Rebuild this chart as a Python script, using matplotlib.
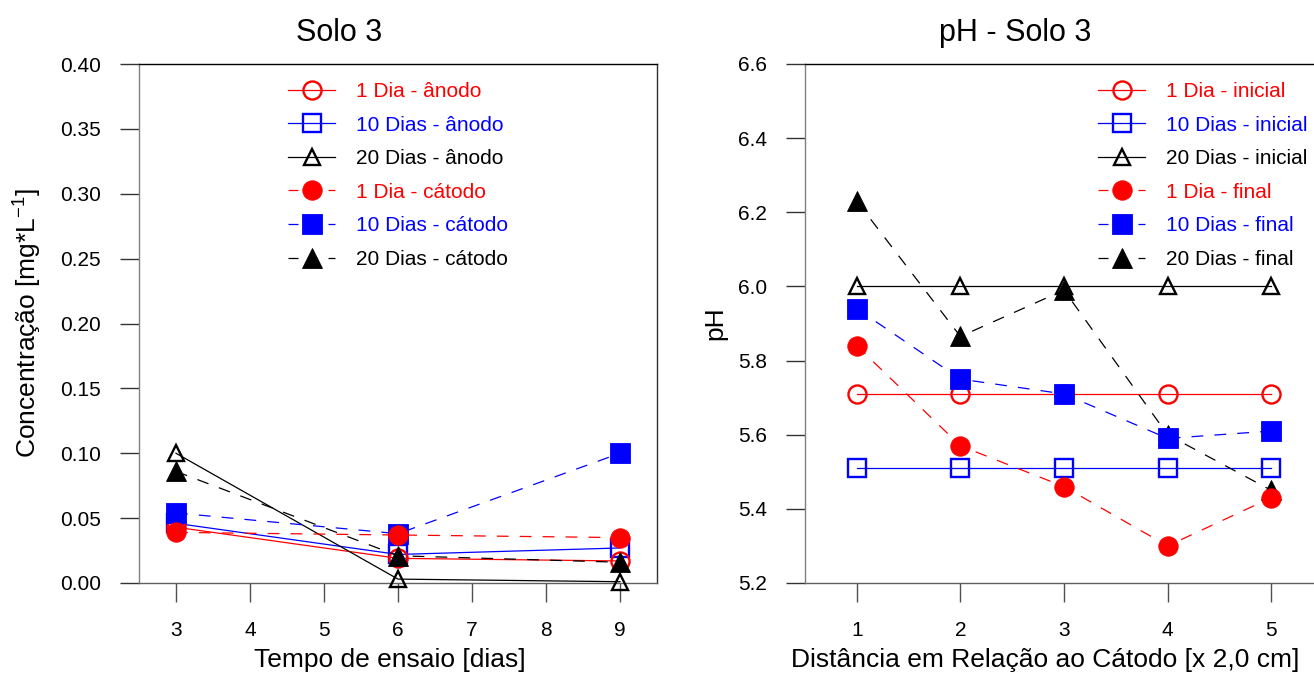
import matplotlib
matplotlib.use("Agg")
import matplotlib.pyplot as plt
from matplotlib.legend_handler import HandlerLine2D

plt.rcParams['font.family'] = ['Liberation Sans', 'DejaVu Sans']
plt.rcParams['mathtext.fontset'] = 'custom'
plt.rcParams['mathtext.rm'] = 'Liberation Sans'
plt.rcParams['mathtext.it'] = 'Liberation Sans:italic'
plt.rcParams['lines.scale_dashes'] = False

# ---- Concentração (Solo 3) ----
dias = [3, 6, 9]
conc_anodo_1d = [0.043, 0.019, 0.017]
conc_anodo_10d = [0.046, 0.022, 0.027]
conc_anodo_20d = [0.100, 0.003, 0.001]
conc_catodo_1d = [0.039, 0.037, 0.035]
conc_catodo_10d = [0.054, 0.038, 0.100]
conc_catodo_20d = [0.086, 0.021, 0.016]
conc_ticks = [0.00, 0.05, 0.10, 0.15, 0.20, 0.25, 0.30, 0.35, 0.40]
dias_ticks = [3, 4, 5, 6, 7, 8, 9]

# ---- pH (Solo 3) ----
distancia = [1, 2, 3, 4, 5]
ph_inicial_1d = [5.71, 5.71, 5.71, 5.71, 5.71]
ph_inicial_10d = [5.51, 5.51, 5.51, 5.51, 5.51]
ph_inicial_20d = [6.00, 6.00, 6.00, 6.00, 6.00]
ph_final_1d = [5.84, 5.57, 5.46, 5.30, 5.43]
ph_final_10d = [5.94, 5.75, 5.71, 5.59, 5.61]
ph_final_20d = [6.23, 5.865, 5.99, 5.60, 5.45]
ph_ticks = [5.2, 5.4, 5.6, 5.8, 6.0, 6.2, 6.4, 6.6]

RED, BLUE, BLACK = '#ff0000', '#0000ff', '#000000'
DASH = (8.5, 8.0)

fig = plt.figure(figsize=(13.14, 6.75), dpi=100)
W, H = 1314.0, 675.0


def px_axes(left, top, right, bottom):
    return fig.add_axes([left / W, 1 - bottom / H, (right - left) / W, (bottom - top) / H])


ax1 = px_axes(139, 64, 657, 583)
ax2 = px_axes(805, 64, 1323, 583)


def draw(ax, x, y, color, marker, filled, dashed, label, z):
    ms = {'o': 14, 's': 14, '^': 15}[marker] if filled else {'o': 13, 's': 13, '^': 11.5}[marker]
    kw = dict(color=color, lw=0.9, marker=marker, ms=ms, label=label,
              zorder=z, clip_on=False)
    if filled:
        kw.update(mfc=color, mec=color, mew=0.6)
    else:
        kw.update(mfc='none', mec=color, mew=1.7)
    if dashed:
        kw.update(ls=(0, DASH))
    return ax.plot(x, y, **kw)[0]


def legend_dashes(leg_line, orig):
    leg_line.update_from(orig)
    if orig.get_linestyle() not in ('-', 'solid'):
        leg_line.set_dashes((7.2, 21.6))


def style_axes(ax):
    for side in ('left', 'bottom', 'top', 'right'):
        ax.spines[side].set_linewidth(1.0)
    ax.spines['left'].set_color('#808080')
    ax.spines['bottom'].set_color('#606060')
    ax.spines['top'].set_color('#000000')
    ax.spines['right'].set_color('#303030')
    ax.tick_params(axis='both', direction='out', length=13.5, width=1.0,
                   pad=14, labelsize=15)
    ax.tick_params(axis='y', color='#333333')
    ax.tick_params(axis='x', color='#505050')
    ax.set_facecolor('white')


# Left panel: concentration
lines1 = [
    draw(ax1, dias, conc_anodo_1d, RED, 'o', False, False, '1 Dia - ânodo', 3),
    draw(ax1, dias, conc_anodo_10d, BLUE, 's', False, False, '10 Dias - ânodo', 2),
    draw(ax1, dias, conc_anodo_20d, BLACK, '^', False, False, '20 Dias - ânodo', 4),
    draw(ax1, dias, conc_catodo_1d, RED, 'o', True, True, '1 Dia - cátodo', 7),
    draw(ax1, dias, conc_catodo_10d, BLUE, 's', True, True, '10 Dias - cátodo', 6),
    draw(ax1, dias, conc_catodo_20d, BLACK, '^', True, True, '20 Dias - cátodo', 8),
]
ax1.set_xlim(2.5, 9.5)
ax1.set_ylim(0, 0.40)
ax1.set_xticks(dias_ticks)
ax1.set_yticks(conc_ticks)
ax1.set_yticklabels([f'{v:.2f}' for v in conc_ticks])
style_axes(ax1)
ax1.set_xlabel('Tempo de ensaio [dias]', fontsize=19)
ax1.set_ylabel('Concentração [mg*L$^{\\mathregular{-1}}$]', fontsize=19)
ax1.xaxis.set_label_coords((390 - 139) / 518, (583 - 648) / 519)
ax1.yaxis.set_label_coords((44 - 139) / 518, 0.5)

# Right panel: pH
lines2 = [
    draw(ax2, distancia, ph_inicial_1d, RED, 'o', False, False, '1 Dia - inicial', 3),
    draw(ax2, distancia, ph_inicial_10d, BLUE, 's', False, False, '10 Dias - inicial', 2),
    draw(ax2, distancia, ph_inicial_20d, BLACK, '^', False, False, '20 Dias - inicial', 4),
    draw(ax2, distancia, ph_final_1d, RED, 'o', True, True, '1 Dia - final', 8),
    draw(ax2, distancia, ph_final_10d, BLUE, 's', True, True, '10 Dias - final', 7),
    draw(ax2, distancia, ph_final_20d, BLACK, '^', True, True, '20 Dias - final', 6),
]
ax2.set_xlim(0.5, 5.5)
ax2.set_ylim(5.2, 6.6)
ax2.set_xticks(distancia)
ax2.set_yticks(ph_ticks)
ax2.set_yticklabels([f'{v:.1f}' for v in ph_ticks])
style_axes(ax2)
ax2.set_xlabel('Distância em Relação ao Cátodo [x 2,0 cm]', fontsize=19)
ax2.set_ylabel('pH', fontsize=19)
ax2.xaxis.set_label_coords((1045 - 805) / 518, (583 - 648) / 519)
ax2.yaxis.set_label_coords((727 - 805) / 518, 0.5)

# Panel titles
fig.text(339 / W, 1 - 33 / H, 'Solo 3', fontsize=22, ha='center', va='center')
fig.text(1015 / W, 1 - 33 / H, 'pH - Solo 3', fontsize=22, ha='center', va='center')

handler = HandlerLine2D(update_func=legend_dashes)
for ax, lines, x0 in ((ax1, lines1, 288), (ax2, lines2, 1098)):
    ax.legend(handles=lines, loc='upper left',
              bbox_to_anchor=(x0 / W, 1 - 82 / H), bbox_transform=fig.transFigure,
              frameon=False, fontsize=15, handlelength=2.26, handletextpad=1.0,
              labelspacing=0.70, borderpad=0, borderaxespad=0,
              labelcolor='linecolor', handler_map={type(lines[0]): handler})

fig.savefig('out.png', dpi=100, facecolor='white')
